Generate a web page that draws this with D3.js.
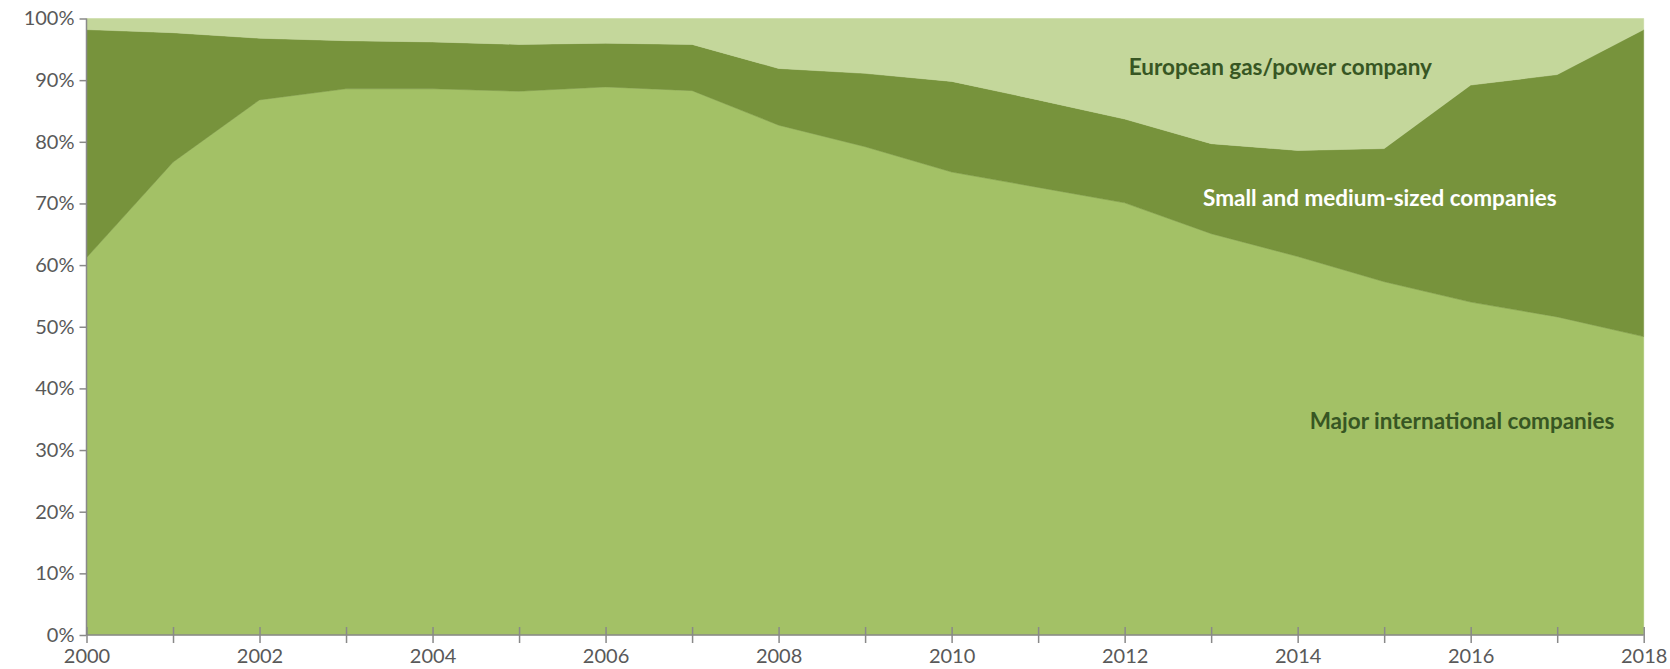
<!DOCTYPE html>
<html>
<head>
<meta charset="utf-8">
<script src="https://cdn.jsdelivr.net/npm/d3@7"></script>
<style>
  body { margin: 0; background: #fff; }
  svg { display: block; font-family: Lato, "Open Sans", sans-serif; }
  .axis path, .axis line { stroke: #898989; stroke-width: 1.5; }
  .axis text { fill: #595959; font-size: 20px; font-family: Lato, sans-serif; }
</style>
</head>
<body>
<svg id="chart" width="1670" height="669"></svg>
<script>
// years on the x axis
var years = [2000, 2001, 2002, 2003, 2004, 2005, 2006, 2007, 2008, 2009,
             2010, 2011, 2012, 2013, 2014, 2015, 2016, 2017, 2018];

// shares in percent
var major = [61.2, 76.7, 86.8, 88.6, 88.6, 88.2, 88.9, 88.3, 82.7, 79.2,
             75.1, 72.6, 70.1, 65.1, 61.4, 57.3, 54.0, 51.6, 48.4];
var smallMedium = [37.0, 21.0, 10.0, 7.8, 7.6, 7.6, 7.1, 7.5, 9.2, 11.9,
                   14.7, 14.2, 13.6, 14.6, 17.2, 21.6, 35.2, 39.3, 49.8];
var european = [1.8, 2.3, 3.2, 3.6, 3.8, 4.2, 4.0, 4.2, 8.1, 8.9,
                10.2, 13.2, 16.3, 20.3, 21.4, 21.1, 10.8, 9.1, 1.8];

var seriesNames = ["Major international companies", "Small and medium-sized companies", "European gas/power company"];
var yTicks = [0, 10, 20, 30, 40, 50, 60, 70, 80, 90, 100];
var xLabelYears = [2000, 2002, 2004, 2006, 2008, 2010, 2012, 2014, 2016, 2018];

var colors = ["#a3c166", "#77933c", "#c4d79b"];

var svg = d3.select("#chart");
// plot box (window.top is taken, so use other names)
var plotLeft = 86.5, plotRight = 1643.7, plotTop = 18.5, plotBottom = 635;

var x = d3.scaleLinear().domain([2000, 2018]).range([plotLeft, plotRight]);
var y = d3.scaleLinear().domain([0, 100]).range([plotBottom, plotTop]);

// build table for the stack
var table = years.map(function(yr, i) {
  return { year: yr, major: major[i], sme: smallMedium[i], eu: european[i] };
});

var stack = d3.stack().keys(["major", "sme", "eu"]);
var layers = stack(table);

var area = d3.area()
  .x(function(d) { return x(d.data.year); })
  .y0(function(d) { return y(d[0]); })
  .y1(function(d) { return y(d[1]); });

svg.selectAll(".layer")
  .data(layers)
  .enter()
  .append("path")
  .attr("class", "layer")
  .attr("d", area)
  .attr("fill", function(d, i) { return colors[i]; })
  .attr("stroke", function(d, i) { return colors[i]; })
  .attr("stroke-width", 0.5);

// y axis
var yAxis = d3.axisLeft(y)
  .tickValues(yTicks)
  .tickSize(7)
  .tickPadding(5)
  .tickFormat(function(d) { return d + "%"; });

svg.append("g")
  .attr("class", "axis")
  .attr("transform", "translate(" + plotLeft + ",0)")
  .call(yAxis)
  .call(function(g) { g.select(".domain").attr("d", "M0," + y(100) + "V" + y(0)); });

// x axis, ticks every year crossing the line, labels every two years
var xAxis = d3.axisBottom(x)
  .tickValues(years)
  .tickSize(8)
  .tickFormat(function(d) { return xLabelYears.indexOf(d) >= 0 ? d : ""; });

var gx = svg.append("g")
  .attr("class", "axis")
  .attr("transform", "translate(0," + plotBottom + ")")
  .call(xAxis);
gx.select(".domain").attr("d", "M" + plotLeft + ",0H" + plotRight);
gx.selectAll(".tick line").attr("y1", -8).attr("y2", 8);
gx.selectAll(".tick text").attr("y", 14);

// series labels
var labels = [
  { text: seriesNames[2], x: 2013.8, v: 91.85, fill: "#375623" },
  { text: seriesNames[1], x: 2014.95, v: 70.45, fill: "#ffffff" },
  { text: seriesNames[0], x: 2015.9, v: 34.3, fill: "#375623" }
];

svg.selectAll(".series-label")
  .data(labels)
  .enter()
  .append("text")
  .attr("class", "series-label")
  .attr("x", function(d) { return x(d.x); })
  .attr("y", function(d) { return y(d.v); })
  .attr("text-anchor", "middle")
  .attr("dominant-baseline", "middle")
  .attr("font-weight", "bold")
  .attr("font-size", 22.5)
  .attr("fill", function(d) { return d.fill; })
  .text(function(d) { return d.text; });
</script>
</body>
</html>
